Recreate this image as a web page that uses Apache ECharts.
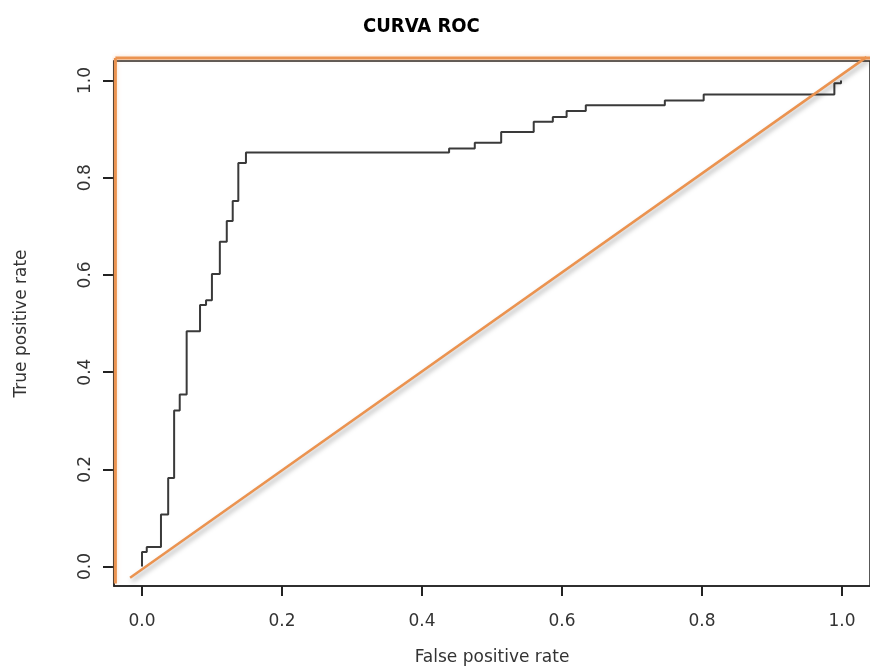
<!DOCTYPE html>
<html>
<head>
<meta charset="utf-8">
<script src="https://cdn.jsdelivr.net/npm/echarts@6/dist/echarts.min.js"></script>
<style>
html,body{margin:0;padding:0;background:#fff;}
#chart{width:870px;height:671px;}
</style>
</head>
<body>
<div id="chart"></div>
<script>
// ROC curve corner points (step chart: at each FPR the TPR jumps to the value)
var fpr = [0, 0, 0.0068, 0.0271, 0.0374, 0.0459, 0.0539, 0.0638, 0.0829, 0.0915, 0.0999, 0.1112, 0.1211, 0.1296, 0.1376, 0.1485, 0.4387, 0.4754, 0.5131, 0.5596, 0.5869, 0.6066, 0.6340, 0.7469, 0.8024, 0.9891, 0.9986];
var tpr = [0, 0.030, 0.040, 0.107, 0.182, 0.321, 0.354, 0.484, 0.538, 0.548, 0.602, 0.668, 0.711, 0.752, 0.830, 0.852, 0.860, 0.872, 0.894, 0.915, 0.925, 0.937, 0.949, 0.959, 0.971, 0.994, 1.0];
// Orange reference lines (drawn over the plot)
var diagX = [-0.017, 1.035];
var diagY = [-0.023, 1.048];
var leftX = [-0.038, -0.038];
var leftY = [-0.035, 1.046];
var topX = [-0.038, 1.06];
var topY = [1.046, 1.046];
var tickValues = [0, 0.2, 0.4, 0.6, 0.8, 1.0];
var axisMin = -0.04;
var axisMax = 1.04;

function pairs(xs, ys){ return xs.map(function(x,i){ return [x, ys[i]]; }); }

var chart = echarts.init(document.getElementById('chart'));
var orange = '#EB9350';
var tickColor = '#222';
var labelFont = 'DejaVu Sans';

chart.setOption({
  animation: false,
  backgroundColor: '#ffffff',
  title: {
    text: 'CURVA ROC',
    left: 358, top: 12,
    textStyle: { fontFamily: 'Liberation Sans Narrow, DejaVu Sans Condensed, sans-serif', fontWeight: 'bold', fontSize: 20, color: '#000' }
  },
  grid: { left: 114, top: 61, width: 766, height: 526, show: true, borderColor: '#222', borderWidth: 1.5, backgroundColor: 'transparent' },
  xAxis: {
    type: 'value', min: axisMin, max: axisMax, position: 'bottom',
    axisLine: { show: true, onZero: false, lineStyle: { color: '#222', width: 1.5 } },
    splitLine: { show: false },
    axisTick: { show: true, inside: false, customValues: tickValues, length: 10, lineStyle: { color: tickColor, width: 2 } },
    axisLabel: { customValues: tickValues, formatter: function(v){ return v.toFixed(1); }, margin: 27, fontFamily: labelFont, fontSize: 17, color: '#333' },
    name: 'False positive rate', nameLocation: 'middle', nameGap: 63,
    nameTextStyle: { fontFamily: labelFont, fontSize: 17, color: '#333' }
  },
  yAxis: {
    type: 'value', min: axisMin, max: axisMax, position: 'left',
    axisLine: { show: true, onZero: false, lineStyle: { color: '#222', width: 1.5 } },
    splitLine: { show: false },
    axisTick: { show: true, inside: false, customValues: tickValues, length: 11, lineStyle: { color: tickColor, width: 2 } },
    axisLabel: { customValues: tickValues, rotate: 90, formatter: function(v){ return v.toFixed(1); }, margin: 20, fontFamily: labelFont, fontSize: 17, color: '#333' },
    name: 'True positive rate', nameLocation: 'middle', nameGap: 84, nameRotate: 90,
    nameTextStyle: { fontFamily: labelFont, fontSize: 17, color: '#333' }
  },
  series: [
    {
      type: 'line', data: pairs(fpr, tpr), step: 'end', symbol: 'none',
      lineStyle: { color: '#3a3a3a', width: 2 }, z: 3
    },
    {
      type: 'line', data: pairs(diagX, diagY), symbol: 'none', clip: false,
      lineStyle: { color: orange, width: 2.5, shadowColor: 'rgba(0,0,0,0.35)', shadowBlur: 5, shadowOffsetX: 2, shadowOffsetY: 3 }, z: 4
    },
    {
      type: 'line', data: pairs(leftX, leftY), symbol: 'none', clip: false,
      lineStyle: { color: orange, width: 3, shadowColor: 'rgba(235,147,80,0.35)', shadowBlur: 4 }, z: 4
    },
    {
      type: 'line', data: pairs(topX, topY), symbol: 'none', clip: false,
      lineStyle: { color: orange, width: 3, shadowColor: 'rgba(235,147,80,0.35)', shadowBlur: 4 }, z: 4
    }
  ]
});
</script>
</body>
</html>
